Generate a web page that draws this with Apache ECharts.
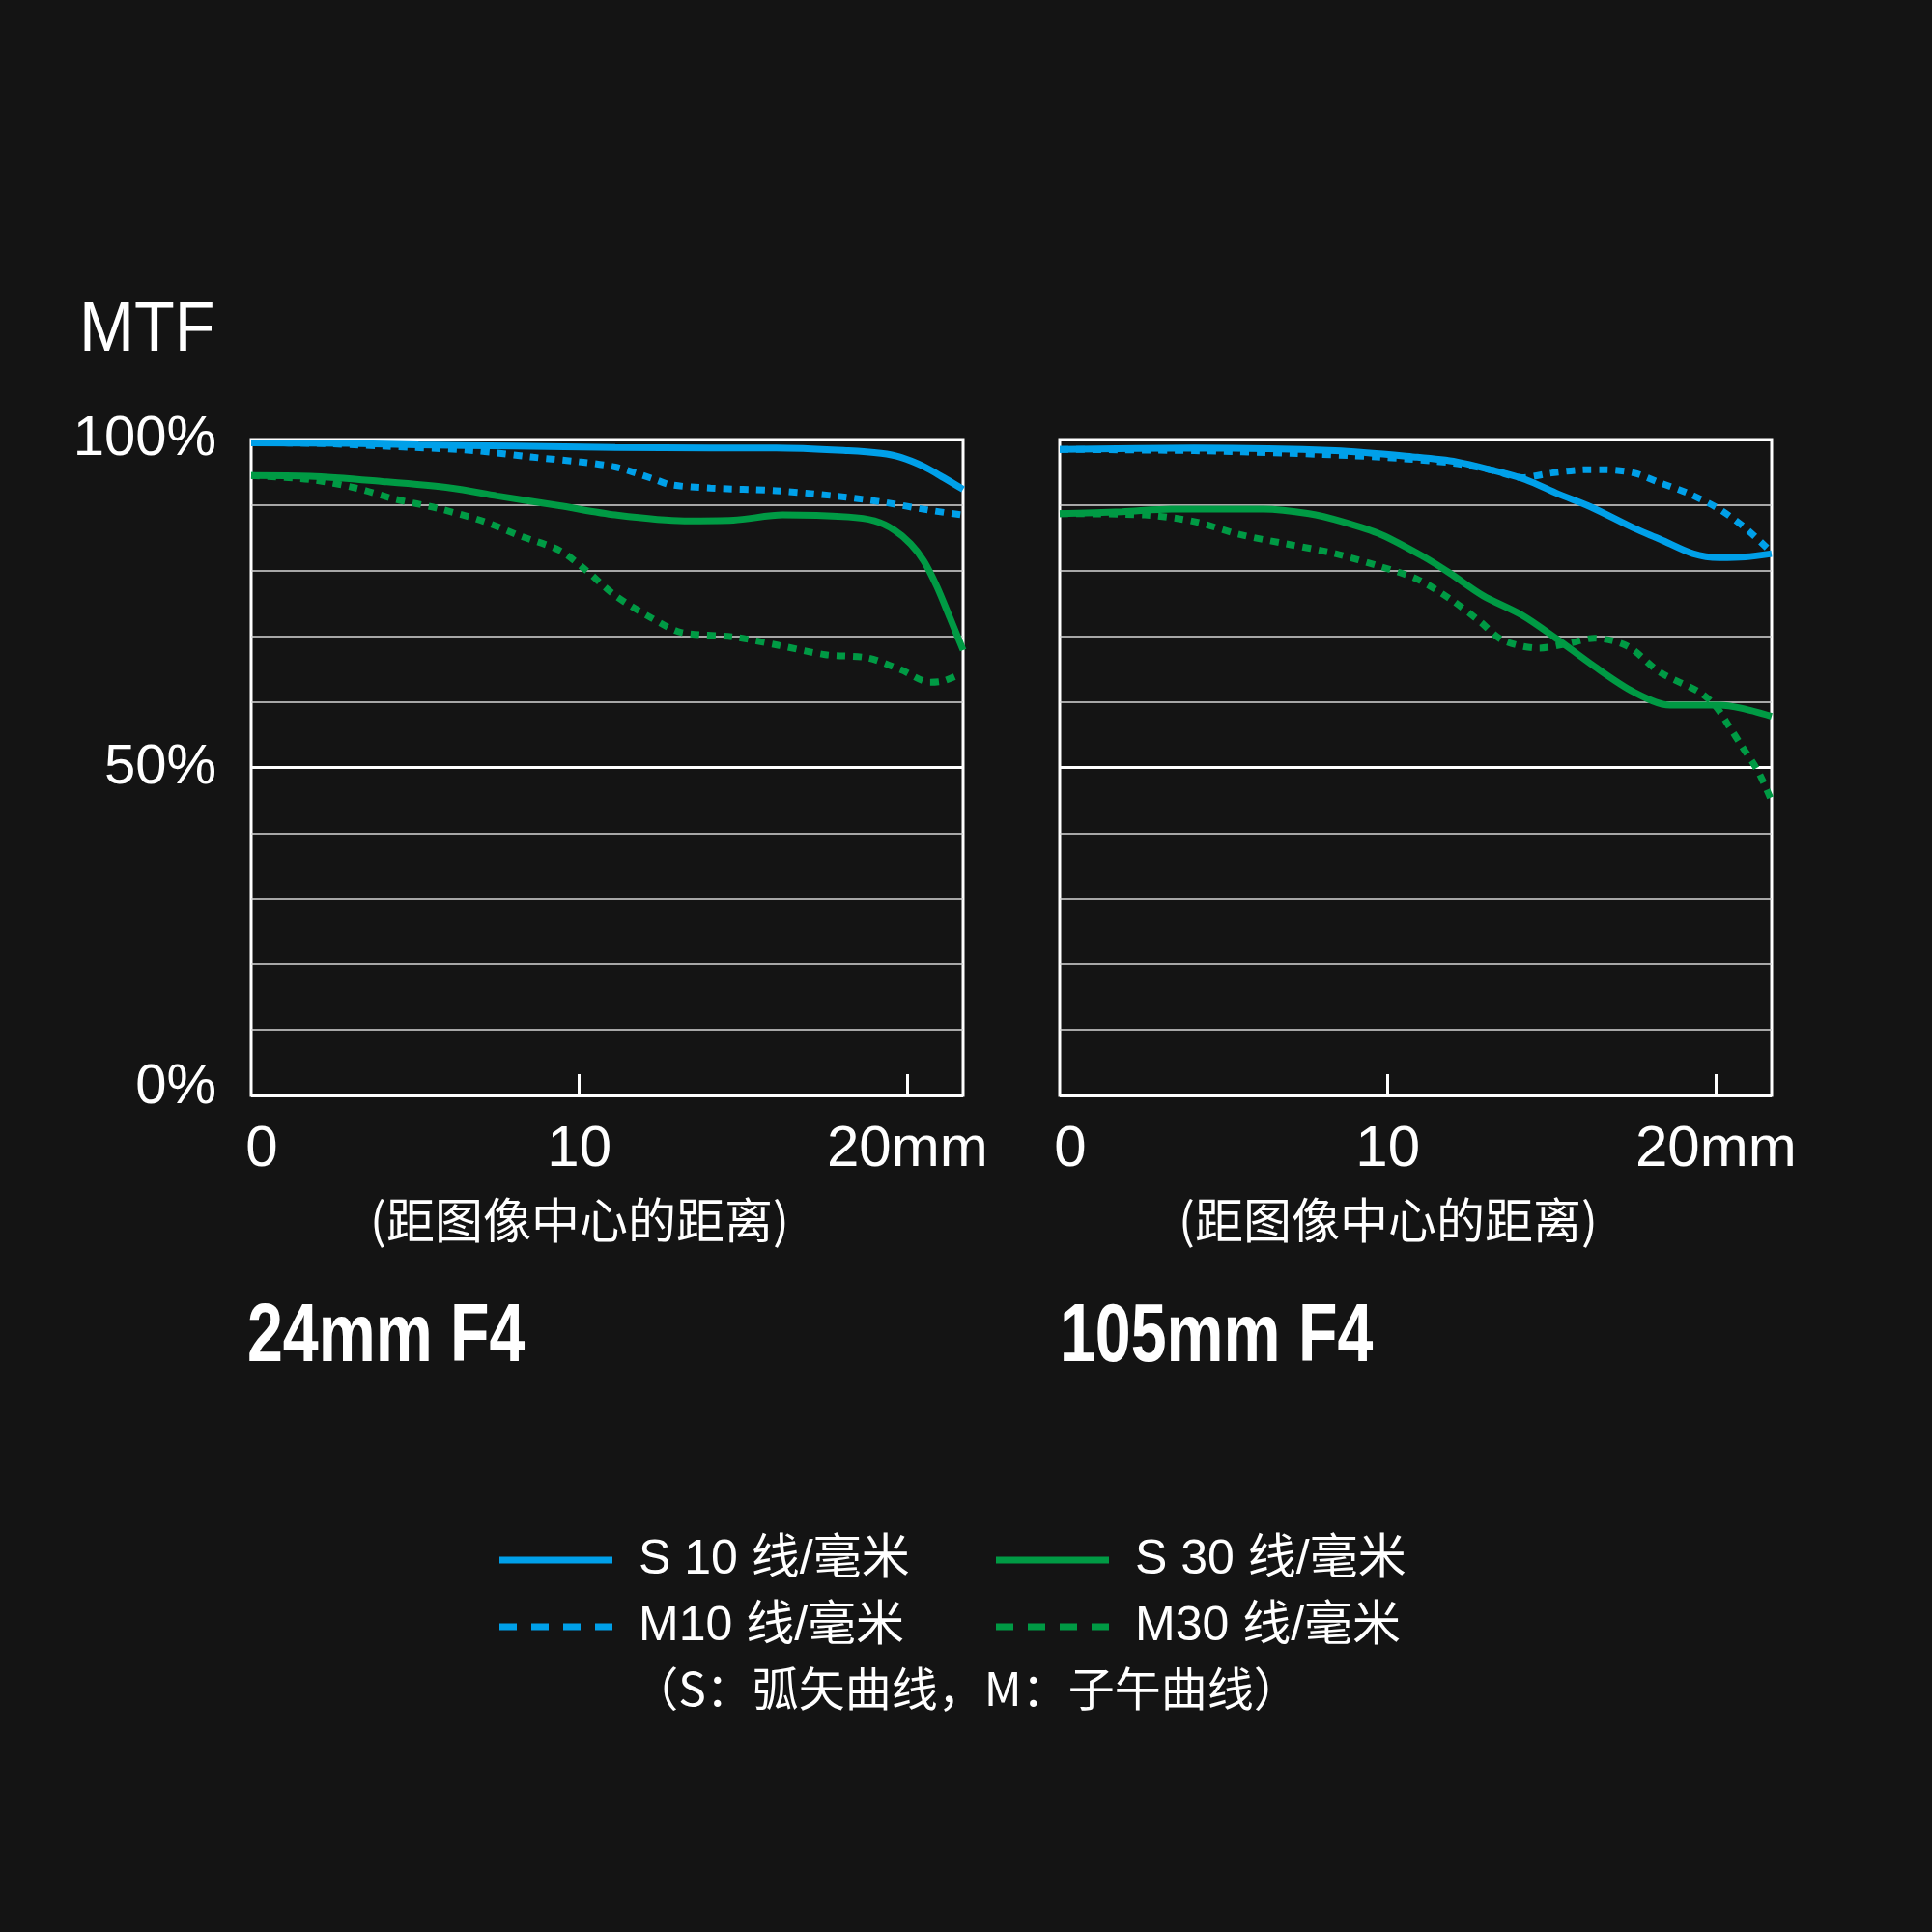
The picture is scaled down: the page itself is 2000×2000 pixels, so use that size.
<html lang="zh">
  <head>
    <meta charset="UTF-8" />
    <title>MTF</title>
    <style>
      html, body { margin: 0; padding: 0; background: #141414; }
    </style>
  </head>
  <body>
    <div id="main" style="width: 2000px; height: 2000px"></div>

    <script src="https://cdn.jsdelivr.net/npm/echarts@6/dist/echarts.min.js"></script>
    <script>
      // 横轴：距图像中心的距离 (mm)，纵轴：MTF (%)
      let xMax = 21.7
      let xLabelValues = [0, 10, 20]
      let xTickValues = [10, 20]
      let yLabelValues = [0, 50, 100]

      let names = ['S 10 线/毫米', 'M10 线/毫米', 'S 30 线/毫米', 'M30 线/毫米']
      let titles = ['24mm F4', '105mm F4']

      // 24mm F4
      let s10Wide = [[0, 99.5], [3, 99.4], [5.1, 99.2], [8, 99], [11.1, 98.8], [14, 98.7], [16, 98.7], [18.2, 98.3], [19.2, 97.9], [19.8, 97.3], [20.5, 95.9], [21.1, 94.2], [21.7, 92.4]]
      let m10Wide = [[0, 99.5], [2, 99.4], [4, 99], [6.8, 98.3], [8.6, 97.3], [10, 96.6], [11.1, 95.8], [12.2, 94.1], [12.8, 93.1], [14, 92.6], [16, 92.2], [17.8, 91.4], [19.2, 90.5], [20.7, 89.2], [21.7, 88.5]]
      let s30Wide = [[0, 94.5], [1.8, 94.4], [4, 93.6], [6.1, 92.6], [7.5, 91.4], [9.4, 89.9], [11.1, 88.5], [13.2, 87.6], [14.7, 87.7], [16.2, 88.5], [18.2, 88.2], [19, 87.6], [19.6, 86.2], [20.1, 84.1], [20.5, 81.5], [20.9, 77.6], [21.3, 72.8], [21.7, 67.9]]
      let m30Wide = [[0, 94.5], [1.8, 93.9], [3.2, 92.6], [4.4, 90.9], [5.7, 89.5], [7.1, 87.5], [8.2, 85.3], [9.4, 83.1], [10.2, 80.1], [11.1, 76.2], [12.2, 72.8], [13.1, 70.6], [14.7, 69.9], [16.1, 68.6], [17.5, 67.2], [18.8, 66.7], [19.8, 64.9], [20.7, 63], [21.1, 63.2], [21.6, 64.2]]

      // 105mm F4
      let s10Tele = [[0, 98.5], [4.1, 98.7], [8.4, 98.3], [10.9, 97.3], [12.1, 96.6], [13.2, 95.3], [14.2, 93.9], [15.2, 91.7], [16.2, 89.7], [17.5, 86.5], [18.3, 84.8], [19.3, 82.6], [20.1, 82], [20.9, 82.1], [21.7, 82.6]]
      let m10Tele = [[0, 98.5], [4.1, 98.3], [7, 97.9], [9.8, 97.3], [12, 96.4], [13.2, 95.3], [14.1, 94.2], [15, 94.9], [16.1, 95.4], [16.6, 95.4], [17.5, 94.9], [18.3, 93.4], [19.2, 91.7], [20.1, 89.4], [20.9, 86.5], [21.7, 82.8]]
      let s30Tele = [[0, 88.7], [1.9, 89], [3.4, 89.4], [6.2, 89.4], [7.6, 88.7], [8.6, 87.5], [9.8, 85.5], [11.1, 82.1], [11.9, 79.6], [12.9, 76.2], [14.1, 73.2], [15.1, 69.8], [16.3, 65.4], [17.5, 61.5], [18.6, 59.5], [20.1, 59.5], [20.8, 59], [21.7, 57.8]]
      let m30Tele = [[0, 88.7], [2.6, 88.5], [4.1, 87.5], [5.5, 85.5], [6.9, 84.1], [8.4, 82.6], [9.8, 80.6], [10.9, 78.7], [11.9, 75.7], [12.8, 72.3], [13.5, 69.4], [14.6, 68.2], [15.5, 68.9], [16.3, 69.7], [17.3, 68.5], [18.3, 64.5], [19.5, 61.5], [20, 59.3], [20.4, 56.3], [20.8, 53.2], [21.3, 49.3], [21.7, 44.9]]

      let blue = '#00a0e9'
      let green = '#009a44'
      let font = "'Liberation Sans', 'Noto Sans CJK SC', sans-serif"
      let cjk = "'Noto Sans CJK SC', 'Liberation Sans', sans-serif"

      let gridLefts = [260, 1097]

      // 图例图标：实线 / 四段虚线
      let solidIcon = 'path://M0,0h117v7h-117z'
      let dashIcon = 'path://M0,0h18v7h-18z M33,0h18v7h-18z M66,0h18v7h-18z M99,0h18v7h-18z'

      function makeX(i) {
        return {
          type: 'value',
          gridIndex: i,
          min: 0,
          max: xMax,
          interval: 10,
          axisLine: { show: false },
          splitLine: { show: false },
          axisTick: {
            show: true,
            inside: true,
            length: 22,
            customValues: xTickValues,
            lineStyle: { color: '#fff', width: 3 }
          },
          axisLabel: {
            customValues: xLabelValues,
            formatter: function (v) {
              if (v === 20) return '20mm'
              if (v === 10) return '10'
              if (v === 0) return '{z|0}'
              return ''
            },
            rich: { z: { fontSize: 60, fontFamily: font, color: '#fff', padding: [0, 0, 0, 22] } },
            color: '#fff',
            fontSize: 60,
            fontFamily: font,
            margin: 26
          }
        }
      }

      function makeY(i, showLabel) {
        return {
          type: 'value',
          gridIndex: i,
          min: 0,
          max: 100,
          interval: 10,
          axisLine: { show: false },
          axisTick: { show: false },
          splitLine: { lineStyle: { color: '#d8d8d8', width: 1.5 } },
          axisLabel: {
            show: showLabel,
            formatter: function (v) {
              if (v === 0) return '{b|0%}'
              return yLabelValues.indexOf(v) >= 0 ? v + '%' : ''
            },
            rich: { b: { fontSize: 58, fontFamily: font, color: '#fff', padding: [0, 0, 16, 0] } },
            color: '#fff',
            fontSize: 58,
            fontFamily: font,
            margin: 36
          }
        }
      }

      // 50% 粗线
      function makeY50(i) {
        return {
          type: 'value',
          gridIndex: i,
          min: 0,
          max: 100,
          interval: 50,
          position: 'left',
          axisLine: { show: false },
          axisTick: { show: false },
          axisLabel: { show: false },
          splitLine: { lineStyle: { color: '#fff', width: 3 } }
        }
      }

      function line(name, data, gi, color, dashed) {
        return {
          name: name,
          type: 'line',
          xAxisIndex: gi,
          yAxisIndex: gi * 2,
          data: data,
          symbol: 'none',
          smooth: 0.3,
          z: dashed ? 2 : 3,
          itemStyle: { color: color },
          lineStyle: { color: color, width: 7, type: dashed ? [9, 8] : 'solid', cap: 'butt' }
        }
      }

      let legendBase = {
        orient: 'vertical',
        top: 1590,
        padding: 0,
        itemWidth: 117,
        itemHeight: 7,
        itemGap: 19,
        selectedMode: false,
        textStyle: {
          color: '#fff',
          fontSize: 50,
          lineHeight: 50,
          fontFamily: font,
          padding: [0, 0, 0, 22]
        }
      }

      let titleFont = "bold 85px 'Liberation Sans', sans-serif"

      let myChart = echarts.init(document.getElementById('main'))
      let option = {
        backgroundColor: '#141414',
        animation: false,
        grid: gridLefts.map(function (l) {
          return {
            left: l,
            top: 455,
            width: 737,
            height: 679,
            show: true,
            borderColor: '#fff',
            borderWidth: 3,
            backgroundColor: 'transparent'
          }
        }),
        xAxis: [makeX(0), makeX(1)],
        yAxis: [makeY(0, true), makeY50(0), makeY(1, false), makeY50(1)],
        legend: [
          Object.assign({}, legendBase, {
            left: 517,
            data: [
              { name: names[0], icon: solidIcon },
              { name: names[1], icon: dashIcon }
            ]
          }),
          Object.assign({}, legendBase, {
            left: 1031,
            data: [
              { name: names[2], icon: solidIcon },
              { name: names[3], icon: dashIcon }
            ]
          })
        ],
        graphic: [
          {
            type: 'text', x: 82, y: 343, scaleX: 0.95,
            style: { text: 'MTF', fill: '#fff', font: '72px ' + font, verticalAlign: 'middle' }
          },
          {
            type: 'text', x: 600, y: 1263,
            style: { text: '(距图像中心的距离)', fill: '#fff', font: '50px ' + cjk, align: 'center', verticalAlign: 'middle' }
          },
          {
            type: 'text', x: 1437, y: 1263,
            style: { text: '(距图像中心的距离)', fill: '#fff', font: '50px ' + cjk, align: 'center', verticalAlign: 'middle' }
          },
          {
            type: 'text', x: 256, y: 1386, scaleX: 0.78,
            style: { text: titles[0], fill: '#fff', font: titleFont, verticalAlign: 'middle' }
          },
          {
            type: 'text', x: 1097, y: 1386, scaleX: 0.78,
            style: { text: titles[1], fill: '#fff', font: titleFont, verticalAlign: 'middle' }
          },
          {
            type: 'text', x: 1000, y: 1748,
            style: { text: '（S：弧矢曲线，M：子午曲线）', fill: '#fff', font: '48px ' + cjk, align: 'center', verticalAlign: 'middle' }
          }
        ],
        series: [
          line(names[1], m10Wide, 0, blue, true),
          line(names[3], m30Wide, 0, green, true),
          line(names[0], s10Wide, 0, blue, false),
          line(names[2], s30Wide, 0, green, false),
          line(names[1], m10Tele, 1, blue, true),
          line(names[3], m30Tele, 1, green, true),
          line(names[0], s10Tele, 1, blue, false),
          line(names[2], s30Tele, 1, green, false)
        ]
      }
      myChart.setOption(option)
    </script>
  </body>
</html>
